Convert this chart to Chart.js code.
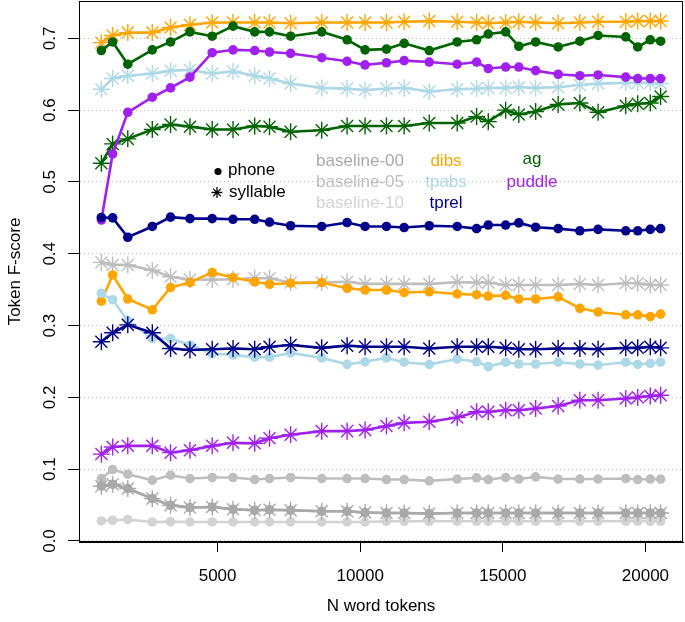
<!DOCTYPE html>
<html><head><meta charset="utf-8">
<script src="https://cdn.jsdelivr.net/npm/chart.js@4"></script>
<style>html,body{margin:0;padding:0;background:#fff;}#wrap{width:685px;height:622px;}</style>
</head><body><div id="wrap"><canvas id="c" width="685" height="622"></canvas></div>
<script>
// ---- data ----
const nTokens = [924, 1320, 1850, 2710, 3350, 4030, 4810, 5540, 6300, 6820, 7560, 8650, 9540, 10170, 10920, 11540, 12420, 13400, 14080, 14490, 15100, 15560, 16150, 16940, 17700, 18340, 19310, 19730, 20170, 20533];
const xTicks = [5000, 10000, 15000, 20000];
const yTicks = [0.0, 0.1, 0.2, 0.3, 0.4, 0.5, 0.6, 0.7];

const base00Phone = [0.0763, 0.079, 0.073, 0.059, 0.0498, 0.0466, 0.0474, 0.0442, 0.0428, 0.0435, 0.0428, 0.0414, 0.0414, 0.0396, 0.039, 0.039, 0.0382, 0.039, 0.039, 0.039, 0.039, 0.039, 0.039, 0.039, 0.039, 0.039, 0.039, 0.039, 0.039, 0.039];
const base00Syll  = [0.0763, 0.079, 0.073, 0.059, 0.0498, 0.0466, 0.0474, 0.0442, 0.0428, 0.0435, 0.0428, 0.0414, 0.0414, 0.0396, 0.039, 0.039, 0.0382, 0.039, 0.039, 0.039, 0.039, 0.039, 0.039, 0.039, 0.039, 0.039, 0.039, 0.039, 0.039, 0.039];
const base05Phone = [0.087, 0.0995, 0.093, 0.0847, 0.0916, 0.087, 0.0884, 0.0884, 0.0856, 0.087, 0.0884, 0.087, 0.087, 0.087, 0.0856, 0.0856, 0.0837, 0.0863, 0.0879, 0.0856, 0.0884, 0.0863, 0.0893, 0.0863, 0.0863, 0.0863, 0.087, 0.0856, 0.0863, 0.0863];
const base05Syll  = [0.388, 0.3845, 0.3845, 0.377, 0.368, 0.364, 0.364, 0.3645, 0.366, 0.366, 0.360, 0.360, 0.361, 0.358, 0.358, 0.358, 0.358, 0.3605, 0.360, 0.360, 0.3565, 0.3565, 0.3565, 0.3565, 0.358, 0.3565, 0.359, 0.359, 0.3565, 0.3565];
const base10Phone = [0.0279, 0.0289, 0.0298, 0.0265, 0.027, 0.0265, 0.0265, 0.0265, 0.0265, 0.0265, 0.0265, 0.0265, 0.0265, 0.0265, 0.0275, 0.0275, 0.0275, 0.0275, 0.0275, 0.0275, 0.0275, 0.0275, 0.0275, 0.0275, 0.0275, 0.0275, 0.0275, 0.0275, 0.0275, 0.0275];
const dibsPhone   = [0.334, 0.3705, 0.337, 0.322, 0.353, 0.360, 0.374, 0.367, 0.361, 0.3575, 0.359, 0.360, 0.352, 0.3495, 0.3495, 0.346, 0.347, 0.344, 0.343, 0.341, 0.342, 0.337, 0.337, 0.340, 0.324, 0.319, 0.315, 0.315, 0.3125, 0.316];
const dibsSyll    = [0.694, 0.704, 0.708, 0.708, 0.715, 0.719, 0.722, 0.722, 0.722, 0.722, 0.721, 0.722, 0.722, 0.722, 0.722, 0.723, 0.724, 0.723, 0.722, 0.721, 0.722, 0.723, 0.722, 0.721, 0.722, 0.723, 0.723, 0.724, 0.724, 0.724];
const tpabsPhone  = [0.345, 0.336, 0.307, 0.282, 0.282, 0.273, 0.261, 0.259, 0.256, 0.256, 0.262, 0.255, 0.246, 0.2495, 0.255, 0.249, 0.246, 0.2535, 0.2495, 0.243, 0.249, 0.2465, 0.2465, 0.249, 0.2465, 0.245, 0.249, 0.246, 0.2475, 0.249];
const tpabsSyll   = [0.629, 0.644, 0.648, 0.651, 0.655, 0.656, 0.651, 0.654, 0.648, 0.644, 0.637, 0.631, 0.630, 0.628, 0.630, 0.631, 0.626, 0.629, 0.630, 0.631, 0.631, 0.632, 0.631, 0.632, 0.635, 0.637, 0.638, 0.638, 0.638, 0.637];
const tprelPhone  = [0.4505, 0.450, 0.423, 0.438, 0.451, 0.449, 0.449, 0.448, 0.448, 0.444, 0.439, 0.438, 0.4435, 0.438, 0.438, 0.4365, 0.439, 0.438, 0.435, 0.440, 0.440, 0.443, 0.437, 0.435, 0.432, 0.434, 0.432, 0.432, 0.434, 0.435];
const tprelSyll   = [0.2775, 0.290, 0.301, 0.290, 0.268, 0.266, 0.267, 0.268, 0.267, 0.2705, 0.273, 0.269, 0.272, 0.2705, 0.2705, 0.2705, 0.268, 0.2705, 0.2705, 0.2705, 0.269, 0.267, 0.267, 0.268, 0.268, 0.267, 0.269, 0.269, 0.2705, 0.269];
const agPhone     = [0.683, 0.695, 0.664, 0.684, 0.695, 0.709, 0.703, 0.717, 0.709, 0.709, 0.703, 0.709, 0.698, 0.684, 0.685, 0.693, 0.683, 0.695, 0.698, 0.706, 0.709, 0.689, 0.695, 0.688, 0.696, 0.704, 0.702, 0.688, 0.698, 0.696];
const agSyll      = [0.526, 0.553, 0.560, 0.573, 0.580, 0.577, 0.573, 0.573, 0.578, 0.577, 0.570, 0.572, 0.578, 0.578, 0.578, 0.578, 0.582, 0.582, 0.591, 0.584, 0.600, 0.594, 0.598, 0.608, 0.610, 0.597, 0.606, 0.609, 0.610, 0.619];
const puddlePhone = [0.447, 0.539, 0.597, 0.618, 0.631, 0.646, 0.680, 0.684, 0.683, 0.681, 0.679, 0.673, 0.668, 0.663, 0.666, 0.669, 0.667, 0.664, 0.667, 0.658, 0.660, 0.660, 0.655, 0.650, 0.648, 0.649, 0.646, 0.644, 0.644, 0.644];
const puddleSyll  = [0.121, 0.131, 0.1325, 0.1325, 0.123, 0.1265, 0.1325, 0.1367, 0.136, 0.143, 0.148, 0.153, 0.153, 0.1545, 0.160, 0.1645, 0.166, 0.172, 0.180, 0.180, 0.182, 0.182, 0.1845, 0.188, 0.196, 0.196, 0.1985, 0.200, 0.202, 0.203];

// ---- styles ----
const COL = {
  base00: '#A9A9A9', base05: '#BEBEBE', base10: '#D3D3D3',
  dibs: '#FFA500', tpabs: '#ADD8E6', tprel: '#00008B', ag: '#006400', puddle: '#A020F0'
};
const FONT = '"Liberation Sans", Arial, Helvetica, sans-serif';

function mk(label, arr, color, kind) {
  const d = {
    label, data: nTokens.map((x, i) => ({x, y: arr[i]})),
    borderColor: color, backgroundColor: color, borderWidth: 2.6,
    tension: 0, fill: false
  };
  if (kind === 'phone') {
    Object.assign(d, {pointStyle: 'circle', pointRadius: 4.8, pointBackgroundColor: color, pointBorderColor: color, pointBorderWidth: 0});
  } else {
    Object.assign(d, {pointStyle: 'star', pointRadius: 8.5, pointBorderColor: color, pointBackgroundColor: color, pointBorderWidth: 1.4});
  }
  return d;
}

const datasets = [
  mk('baseline-10 phone', base10Phone, COL.base10, 'phone'),
  mk('baseline-05 phone', base05Phone, COL.base05, 'phone'),
  mk('baseline-00 phone', base00Phone, COL.base00, 'phone'),
  mk('baseline-00 syllable', base00Syll, COL.base00, 'syll'),
  mk('baseline-05 syllable', base05Syll, COL.base05, 'syll'),
  mk('dibs phone', dibsPhone, COL.dibs, 'phone'),
  mk('tpabs phone', tpabsPhone, COL.tpabs, 'phone'),
  mk('tprel syllable', tprelSyll, COL.tprel, 'syll'),
  mk('puddle syllable', puddleSyll, COL.puddle, 'syll'),
  mk('tpabs syllable', tpabsSyll, COL.tpabs, 'syll'),
  mk('ag syllable', agSyll, COL.ag, 'syll'),
  mk('puddle phone', puddlePhone, COL.puddle, 'phone'),
  mk('tprel phone', tprelPhone, COL.tprel, 'phone'),
  mk('dibs syllable', dibsSyll, COL.dibs, 'syll'),
  mk('ag phone', agPhone, COL.ag, 'phone')
];
datasets.forEach((d, i) => { d.order = -i; });

const decor = {
  id: 'decor',
  afterDraw(chart) {
    const ctx = chart.ctx, ca = chart.chartArea, ys = chart.scales.y;
    ctx.save();
    // frame
    ctx.strokeStyle = '#000'; ctx.lineWidth = 1;
    ctx.strokeRect(Math.round(ca.left) + 0.5, Math.round(ca.top) + 0.5, Math.round(ca.right - ca.left) - 1, Math.round(ca.bottom - ca.top) - 1);
    // rotated y tick labels
    ctx.fillStyle = '#000';
    ctx.font = '17px ' + FONT;
    ctx.textAlign = 'center'; ctx.textBaseline = 'middle';
    ys.ticks.forEach(t => {
      const py = ys.getPixelForValue(t.value);
      ctx.save(); ctx.translate(50, py); ctx.rotate(-Math.PI / 2);
      ctx.fillText(t.value.toFixed(1), 0, 0); ctx.restore();
    });
    // legend: symbols
    ctx.beginPath(); ctx.arc(218, 171.5, 3.6, 0, 2 * Math.PI); ctx.fill();
    ctx.lineWidth = 1.3; ctx.strokeStyle = '#000';
    const sx = 217, sy = 192.5, r = 5.5, rd = r * Math.SQRT1_2;
    ctx.beginPath();
    ctx.moveTo(sx - r, sy); ctx.lineTo(sx + r, sy);
    ctx.moveTo(sx, sy - r); ctx.lineTo(sx, sy + r);
    ctx.moveTo(sx - rd, sy - rd); ctx.lineTo(sx + rd, sy + rd);
    ctx.moveTo(sx - rd, sy + rd); ctx.lineTo(sx + rd, sy - rd);
    ctx.stroke();
    ctx.textAlign = 'left';
    ctx.fillText('phone', 228, 170.5);
    ctx.fillText('syllable', 229, 192);
    // legend: methods
    ctx.textAlign = 'center';
    const rows = [161, 182, 203];
    ctx.fillStyle = COL.base00; ctx.fillText('baseline-00', 360, rows[0]);
    ctx.fillStyle = COL.base05; ctx.fillText('baseline-05', 360, rows[1]);
    ctx.fillStyle = COL.base10; ctx.fillText('baseline-10', 360, rows[2]);
    ctx.fillStyle = COL.dibs;   ctx.fillText('dibs', 446, rows[0]);
    ctx.fillStyle = COL.tpabs;  ctx.fillText('tpabs', 446, rows[1]);
    ctx.fillStyle = COL.tprel;  ctx.fillText('tprel', 446, rows[2]);
    ctx.fillStyle = COL.ag;     ctx.fillText('ag', 532, rows[0] - 2);
    ctx.fillStyle = COL.puddle; ctx.fillText('puddle', 532, rows[1]);
    ctx.restore();
  }
};

Chart.defaults.font.family = FONT;
Chart.defaults.font.size = 17;
Chart.defaults.color = '#000';

new Chart(document.getElementById('c'), {
  type: 'line',
  data: {datasets},
  options: {
    responsive: false, animation: false, devicePixelRatio: 1, events: [],
    layout: {autoPadding: false, padding: {left: 0, top: 1, right: 2, bottom: 0}},
    plugins: {legend: {display: false}, tooltip: {enabled: false}},
    scales: {
      x: {
        type: 'linear', min: 140, max: 21317,
        afterBuildTicks: s => { s.ticks = xTicks.map(v => ({value: v})); },
        afterFit: s => { s.height = 80; },
        ticks: {callback: v => String(v), padding: 14, maxRotation: 0, minRotation: 0, color: '#000', font: {size: 17}},
        grid: {drawOnChartArea: false, drawTicks: true, tickLength: 10, tickColor: '#000', tickWidth: 1},
        border: {display: true, color: '#000', width: 1},
        title: {display: true, text: 'N word tokens', color: '#000', font: {size: 17}, padding: {top: 0, bottom: 5}}
      },
      y: {
        type: 'linear', min: -0.0014, max: 0.752,
        afterBuildTicks: s => { s.ticks = yTicks.map(v => ({value: v})); },
        afterFit: s => { s.width = 79; },
        ticks: {display: false},
        grid: {drawOnChartArea: true, color: '#BBBBBB', lineWidth: 1, drawTicks: true, tickLength: 11, tickColor: '#000', tickWidth: 1, tickBorderDash: []},
        border: {display: true, color: '#000', width: 1, dash: [1, 3]},
        title: {display: true, text: 'Token F-score', color: '#000', font: {size: 17}, padding: {top: 5, bottom: 0}}
      }
    }
  },
  plugins: [decor]
});
</script>
</body></html>
